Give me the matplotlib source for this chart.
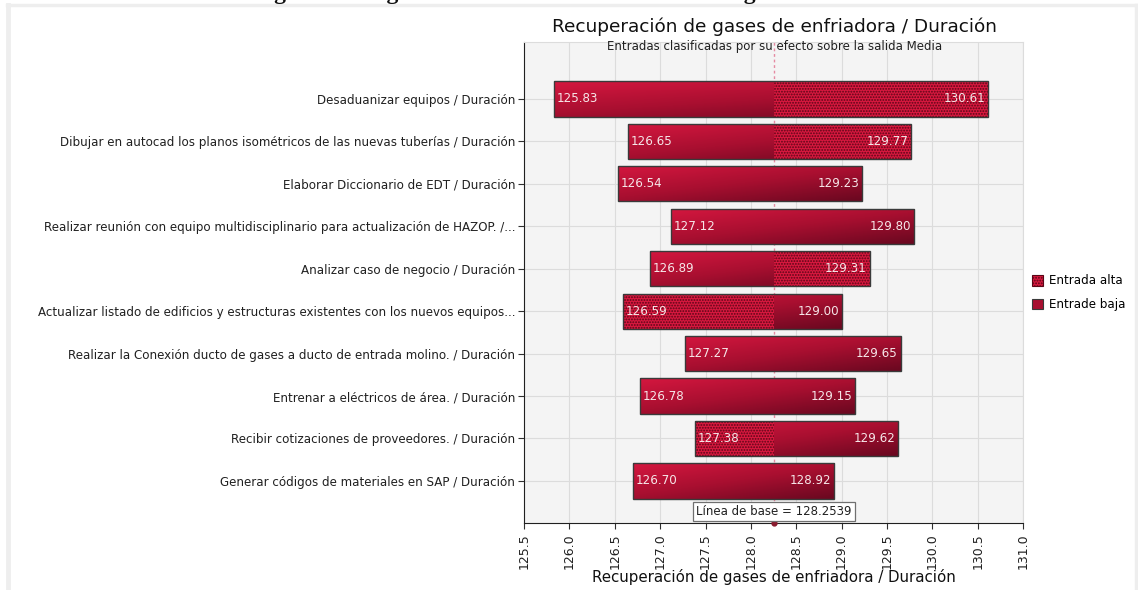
import numpy as np
import matplotlib
matplotlib.use("Agg")
import matplotlib.pyplot as plt
from matplotlib.patches import Rectangle, Patch
from matplotlib.colors import LinearSegmentedColormap
from matplotlib.lines import Line2D

# data
labels = [
    "Desaduanizar equipos / Duración",
    "Dibujar en autocad los planos isométricos de las nuevas tuberías / Duración",
    "Elaborar Diccionario de EDT / Duración",
    "Realizar reunión con equipo multidisciplinario para actualización de HAZOP. /...",
    "Analizar caso de negocio / Duración",
    "Actualizar listado de edificios y estructuras existentes con los nuevos equipos...",
    "Realizar la Conexión ducto de gases a ducto de entrada molino. / Duración",
    "Entrenar a eléctricos de área. / Duración",
    "Recibir cotizaciones de proveedores. / Duración",
    "Generar códigos de materiales en SAP / Duración",
]
low_vals = [125.83, 126.65, 126.54, 127.12, 126.89, 126.59, 127.27, 126.78, 127.38, 126.70]
high_vals = [130.61, 129.77, 129.23, 129.80, 129.31, 129.00, 129.65, 129.15, 129.62, 128.92]
# which side is drawn as "Entrada alta" (dotted): "right", "left" or ""
alta_side = ["right", "right", "", "", "right", "left", "", "", "left", ""]
baseline = 128.2539
xticks = [125.5, 126.0, 126.5, 127.0, 127.5, 128.0, 128.5, 129.0, 129.5, 130.0, 130.5, 131.0]

plt.rcParams["font.family"] = ["DejaVu Sans"]
plt.rcParams["hatch.linewidth"] = 0.9

fig = plt.figure(figsize=(11.38, 5.90), dpi=100)
ax = fig.add_axes([0.4605, 0.1136, 0.4385, 0.8152])
ax.set_facecolor("#f4f4f4")

cmap = LinearSegmentedColormap.from_list("red", ["#d4173f", "#a80f30", "#6a0820"])
bar_h = 0.83
n = len(labels)
for i in range(n):
    lo, hi = low_vals[i], high_vals[i]
    y0, y1 = i - bar_h / 2, i + bar_h / 2
    gy, gx = np.mgrid[0:1:30j, 0:1:80j]
    grad = 0.55 * gy + 0.45 * gx
    segs = [("left", lo, baseline), ("right", baseline, hi)]
    for side, a, b in segs:
        if alta_side[i] == side:
            ax.add_patch(Rectangle((a, y0), b - a, bar_h, facecolor="#d8183f",
                                   edgecolor="#5a0616", hatch="......", lw=0, zorder=2))
        else:
            clip = Rectangle((a, y0), b - a, bar_h, transform=ax.transData)
            im = ax.imshow(grad, cmap=cmap, vmin=0, vmax=1, extent=(lo, hi, y1, y0),
                           origin="upper", aspect="auto", zorder=2, interpolation="bilinear")
            im.set_clip_path(clip)
    ax.add_patch(Rectangle((lo, y0), hi - lo, bar_h, fill=False,
                           edgecolor="#3a3a3a", lw=1.0, zorder=3))
    ax.text(lo + 0.03, i, f"{lo:.2f}", ha="left", va="center", color="#f6e6e8",
            fontsize=8.6, zorder=4)
    ax.text(hi - 0.03, i, f"{hi:.2f}", ha="right", va="center", color="#f6e6e8",
            fontsize=8.6, zorder=4)

ax.axvline(baseline, color="#e58aa2", ls=(0, (2, 2)), lw=1.0, zorder=1.5)
ax.plot([baseline], [9.99], marker="o", ms=3.5, color="#8a1a2e", clip_on=False, zorder=5)
ax.text(baseline, 9.73, f"Línea de base = {baseline:.4f}", ha="center", va="center",
        fontsize=8.5, color="#202020", zorder=5,
        bbox=dict(boxstyle="square,pad=0.25", facecolor="white", edgecolor="#707070", lw=0.9))

ax.set_xlim(125.5, 131.0)
ax.set_ylim(9.99, -1.34)
ax.set_xticks(xticks)
ax.set_xticklabels([f"{t:.1f}" for t in xticks], rotation=90, fontsize=9)
ax.set_yticks(range(n))
ax.set_yticklabels(labels, fontsize=8.55)
ax.grid(True, color="#dcdcdc", lw=0.8, zorder=0)
ax.set_axisbelow(True)
ax.tick_params(axis="both", length=4, color="#303030", labelcolor="#202020")
ax.tick_params(axis="y", pad=2.5)
for s in ("top", "right"):
    ax.spines[s].set_color("#dcdcdc")
for s in ("left", "bottom"):
    ax.spines[s].set_color("#202020")
ax.set_xlabel("Recuperación de gases de enfriadora / Duración", fontsize=10.8, color="#101010")
ax.xaxis.set_label_coords(0.5, -0.112)
ax.xaxis.label.set_va("center")

fig.text(0.681, 0.955, "Recuperación de gases de enfriadora / Duración", ha="center",
         va="center", fontsize=13.3, color="#101010")
fig.text(0.681, 0.921, "Entradas clasificadas por su efecto sobre la salida Media", ha="center",
         va="center", fontsize=8.5, color="#202020")

# cut-off caption at top of the page (only its lower edge is on the page)
fig.text(0.467, 1.0025, "Figura 3. Diagrama de Tornado Duración Cronograma", ha="center",
         va="baseline", fontsize=17, fontweight="bold", family=["Liberation Serif"],
         color="#101010")

# page frame
fig.add_artist(Line2D([0.006, 0.998], [0.991, 0.991], color="#eeeeee", lw=2.5,
                      transform=fig.transFigure))
fig.add_artist(Line2D([0.007, 0.007], [0.0, 0.991], color="#eeeeee", lw=3.5,
                      transform=fig.transFigure))
fig.add_artist(Line2D([0.998, 0.998], [0.0, 0.991], color="#eeeeee", lw=2.5,
                      transform=fig.transFigure))

handles = [
    Patch(facecolor="#d8183f", edgecolor="#5a0616", hatch="......", lw=0.8, label="Entrada alta"),
    Patch(facecolor="#a80f30", edgecolor="#3a3a3a", lw=0.8, label="Entrade baja"),
]
fig.legend(handles=handles, loc="upper left", bbox_to_anchor=(0.897, 0.553), frameon=False,
           fontsize=8.6, handlelength=1.0, handleheight=1.0, handletextpad=0.5,
           labelspacing=0.9)

fig.savefig("out.png", dpi=100)
